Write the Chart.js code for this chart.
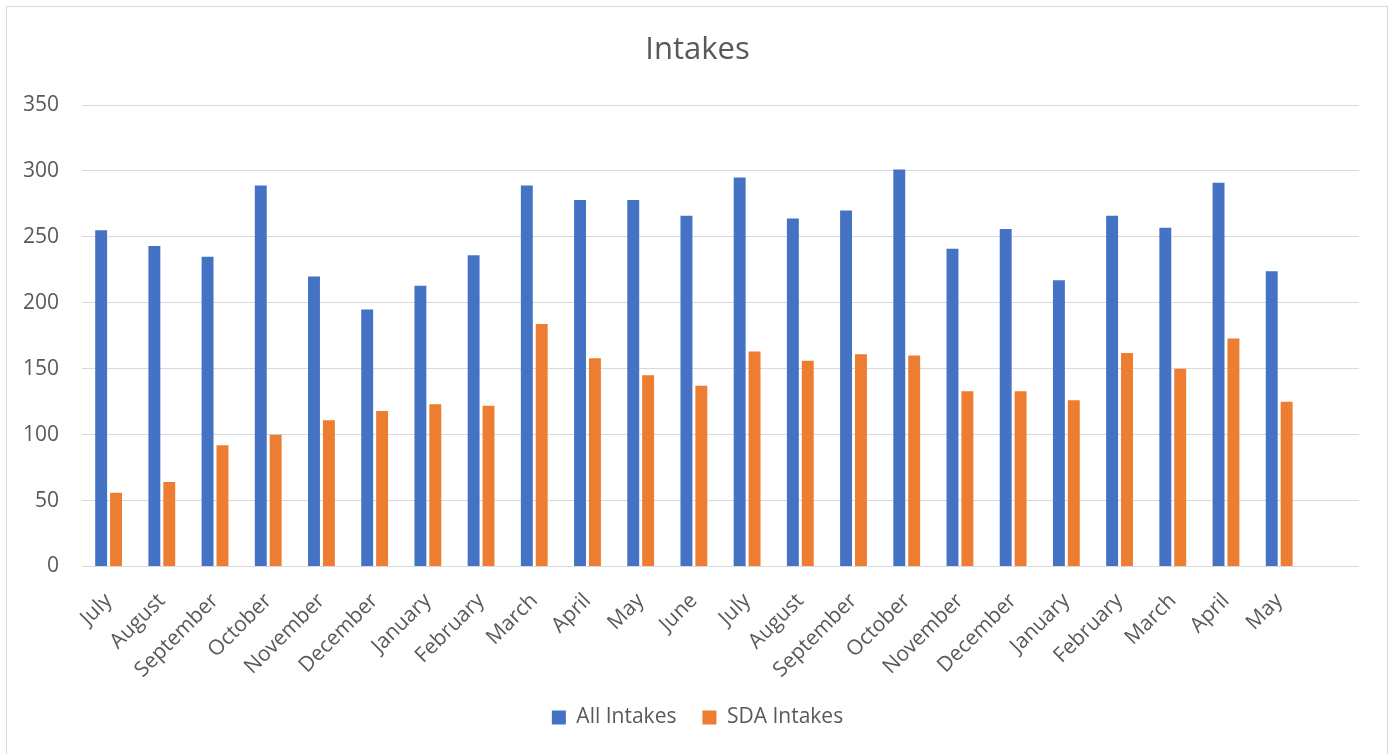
<!DOCTYPE html>
<html>
<head>
<meta charset="utf-8">
<script src="https://cdn.jsdelivr.net/npm/chart.js@4"></script>
<style>
  html, body { margin: 0; padding: 0; background: #ffffff; }
  #wrap { position: relative; width: 1389px; height: 754px; }
</style>
</head>
<body>
<div id="wrap"><canvas id="c" width="1389" height="754"></canvas></div>
<script>
const categories = ["July","August","September","October","November","December","January","February","March","April","May","June","July","August","September","October","November","December","January","February","March","April","May",""];
const allIntakes = [255,243,235,289,220,195,213,236,289,278,278,266,295,264,270,301,241,256,217,266,257,291,224,null];
const sdaIntakes = [56,64,92,100,111,118,123,122,184,158,145,137,163,156,161,160,133,133,126,162,150,173,125,null];
const yTicks = [0,50,100,150,200,250,300,350];

const FONT = "'Open Sans', 'Liberation Sans', sans-serif";
const TEXT = '#595959';
const GRID = '#D9D9D9';
const PAD_BOTTOM = 16;

const frame = {
  id: 'frame',
  beforeDraw(chart) {
    const ctx = chart.ctx;
    ctx.save();
    ctx.fillStyle = '#ffffff';
    ctx.fillRect(0, 0, chart.width, chart.height);
    ctx.strokeStyle = GRID;
    ctx.lineWidth = 1;
    ctx.strokeRect(6.5, 6.5, 1381, 760);
    ctx.restore();
  }
};

new Chart(document.getElementById('c'), {
  type: 'bar',
  data: {
    labels: categories,
    datasets: [
      { label: 'All Intakes', data: allIntakes, backgroundColor: '#4472C4', borderWidth: 0,
        categoryPercentage: 0.56, barPercentage: 0.8 },
      { label: 'SDA Intakes', data: sdaIntakes, backgroundColor: '#ED7D31', borderWidth: 0,
        categoryPercentage: 0.56, barPercentage: 0.8 }
    ]
  },
  options: {
    responsive: false,
    animation: false,
    devicePixelRatio: 1,
    layout: { padding: { left: 6, right: 0, top: 0, bottom: PAD_BOTTOM } },
    plugins: {
      title: {
        display: true,
        text: 'Intakes',
        color: TEXT,
        font: { family: FONT, size: 31, weight: 'normal' },
        padding: { top: 31.4, bottom: 36.4 }
      },
      legend: {
        position: 'bottom',
        labels: {
          color: TEXT,
          font: { family: FONT, size: 21 },
          boxWidth: 14,
          boxHeight: 14,
          padding: 26
        }
      },
      tooltip: { enabled: false }
    },
    scales: {
      x: {
        grid: { display: false },
        border: { display: false },
        ticks: {
          color: TEXT,
          font: { family: FONT, size: 21 },
          minRotation: 45,
          maxRotation: 45,
          autoSkip: false,
          padding: 14
        },
        afterFit(s) { s.height = s.chart.height - 566.5 - s.chart.legend.height - PAD_BOTTOM; }
      },
      y: {
        min: 0,
        max: 350,
        afterBuildTicks(s) { s.ticks = yTicks.map(v => ({ value: v })); },
        grid: { color: GRID, lineWidth: 1, drawTicks: false },
        border: { display: false },
        ticks: {
          color: TEXT,
          font: { family: FONT, size: 21 },
          padding: 23
        },
        afterFit(s) { s.width = 76; }
      },
      yRight: {
        position: 'right',
        display: true,
        grid: { display: false },
        border: { display: false },
        ticks: { display: false },
        afterFit(s) { s.width = 30; }
      }
    }
  },
  plugins: [frame]
});
</script>
</body>
</html>
